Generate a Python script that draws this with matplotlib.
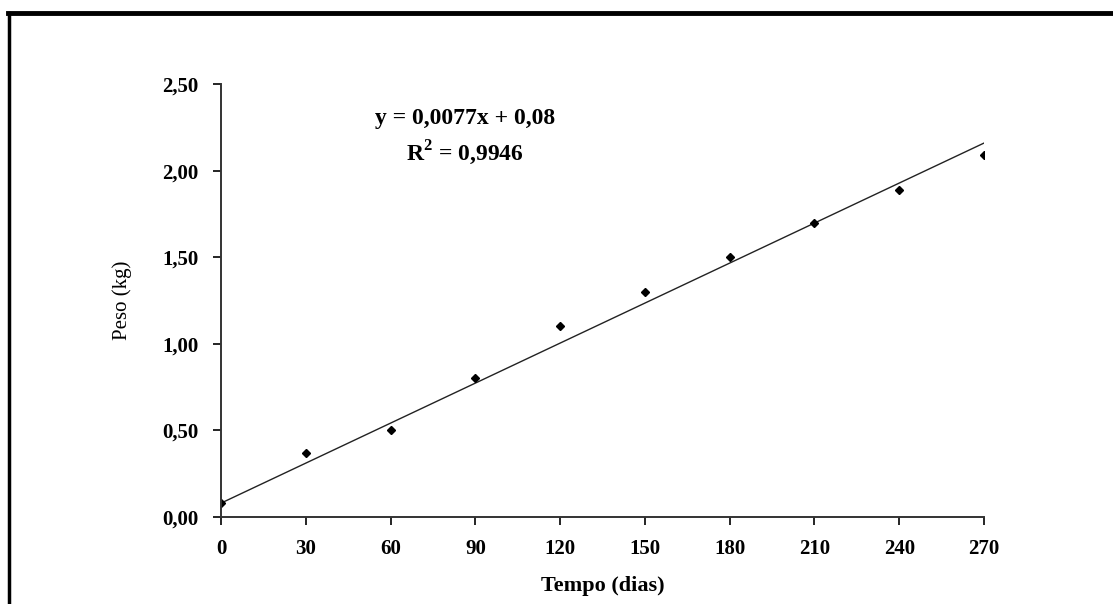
import matplotlib
matplotlib.use("Agg")
import matplotlib.pyplot as plt
from matplotlib.lines import Line2D
import numpy as np

dias = [0, 30, 60, 90, 120, 150, 180, 210, 240, 270]
peso = [0.08, 0.37, 0.50, 0.80, 1.10, 1.30, 1.50, 1.70, 1.89, 2.09]
slope = 0.0077
intercept = 0.08
x_ticks = [0, 30, 60, 90, 120, 150, 180, 210, 240, 270]
y_ticks = [0.0, 0.5, 1.0, 1.5, 2.0, 2.5]
y_tick_labels = ["0,00", "0,50", "1,00", "1,50", "2,00", "2,50"]
eq_text = "y = 0,0077x + 0,08"
r2_text = "R$^2$ = 0,9946"

plt.rcParams['font.family'] = ['Liberation Serif', 'DejaVu Serif']
plt.rcParams['mathtext.fontset'] = 'custom'
plt.rcParams['mathtext.rm'] = 'Liberation Serif:bold'

fig = plt.figure(figsize=(11.13, 6.04), dpi=100)
ax = fig.add_axes([221/1113, 87/604, (984-221)/1113, (517-84)/604])

xs = np.array([dias[0], dias[-1]])
ax.plot(xs, slope*xs + intercept, color='#222222', lw=1.0)
ax.plot(dias, peso, linestyle='none', marker='D', markersize=4.2, color='black')

ax.set_xlim(0, 270)
ax.set_ylim(0, 2.5)
ax.set_xticks(x_ticks)
ax.set_xticklabels([str(v) for v in x_ticks], fontsize=15, fontweight='bold')
ax.set_yticks(y_ticks)
ax.set_yticklabels(y_tick_labels, fontsize=15, fontweight='bold')
ax.tick_params(direction='out', length=6, width=1.2, pad=10)
ax.tick_params(axis='x', pad=10)
for s in ['top', 'right']:
    ax.spines[s].set_visible(False)
for s in ['left', 'bottom']:
    ax.spines[s].set_linewidth(1.4)
    ax.spines[s].set_color('#333333')

ax.set_xlabel("Tempo (dias)", fontsize=16, fontweight='bold', labelpad=12)
ax.set_ylabel("Peso (kg)", fontsize=15, labelpad=22)

ax.text(0.32, 0.92, eq_text, transform=ax.transAxes, ha='center', va='center',
        fontsize=17, fontweight='bold')
ax.text(0.32, 0.84, r2_text, transform=ax.transAxes, ha='center', va='center',
        fontsize=17, fontweight='bold')

# outer frame (top and left)
fig.add_artist(Line2D([8/1113, 1.0], [1-13/604, 1-13/604], transform=fig.transFigure,
                      color='black', lw=3.5))
fig.add_artist(Line2D([9/1113, 9/1113], [0, 1-13/604], transform=fig.transFigure,
                      color='black', lw=2.5))

fig.savefig("out.png", dpi=100)
